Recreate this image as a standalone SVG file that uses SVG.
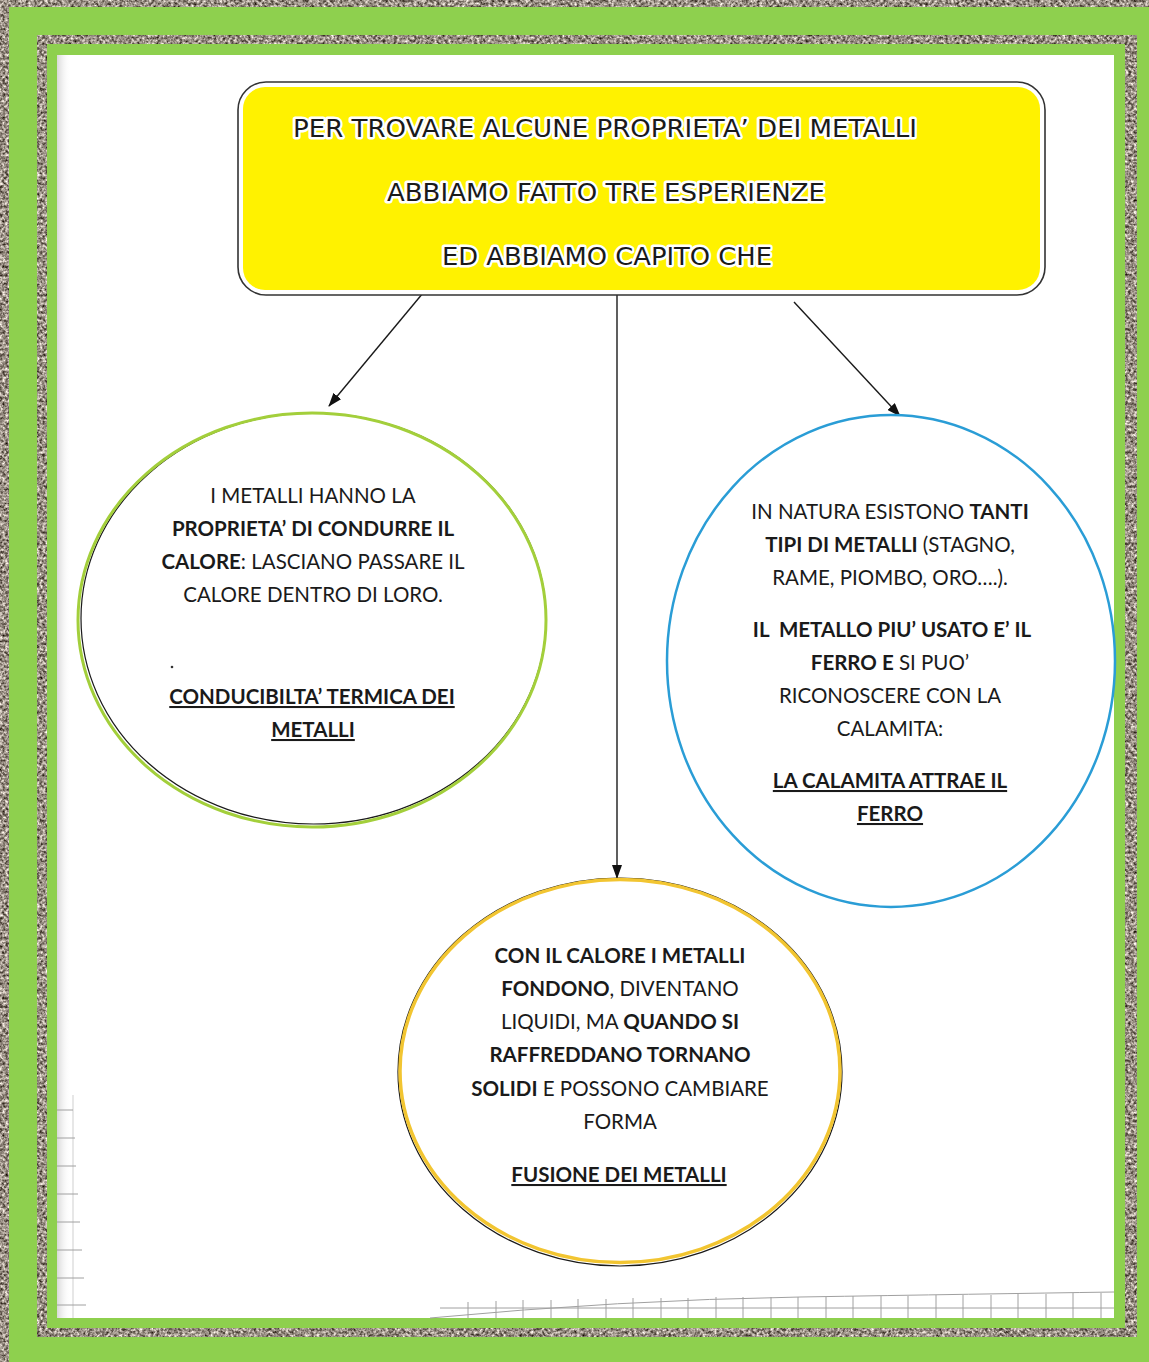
<svg xmlns="http://www.w3.org/2000/svg" width="1149" height="1362" viewBox="0 0 1149 1362">
  <defs>
    <filter id="grain" x="0" y="0" width="100%" height="100%" filterUnits="objectBoundingBox" color-interpolation-filters="sRGB">
      <feTurbulence type="fractalNoise" baseFrequency="0.35" numOctaves="3" seed="7" result="n"/>
      <feColorMatrix in="n" type="matrix" values="1.3 0 0 0 -0.05  1.3 0 0 0 -0.09  1.3 0 0 0 -0.13  0 0 0 0 1"/>
    </filter>
    <linearGradient id="paperShadeL" x1="0" y1="0" x2="1" y2="0">
      <stop offset="0" stop-color="#d8d8d8"/>
      <stop offset="1" stop-color="#ffffff" stop-opacity="0"/>
    </linearGradient>
    <marker id="arrow" viewBox="0 0 14 10" refX="13" refY="5" markerWidth="14" markerHeight="10" markerUnits="userSpaceOnUse" orient="auto">
      <path d="M0,0 L14,5 L0,10 Z" fill="#111"/>
    </marker>
    <style>
      .hdr { font-family: "DejaVu Sans", "Liberation Sans", sans-serif; font-size: 25px; fill: #1a1a1a; text-anchor: middle; stroke: #ffffff; stroke-width: 5px; stroke-linejoin: round; paint-order: stroke; }
      .body { font-family: Lato, "Open Sans", "Liberation Sans", sans-serif; font-size: 20.5px; fill: #1a1a1a; text-anchor: middle; }
      .b { font-weight: bold; }
      .u { text-decoration: underline; }
      .conn { stroke: #1a1a1a; stroke-width: 1.4; fill: none; }
      .tick { stroke: #a0a0a0; stroke-width: 1; fill: none; }
    </style>
  </defs>

  <!-- frame -->
  <g id="frame">
    <rect x="0" y="0" width="1149" height="1362" fill="#9e948b" filter="url(#grain)"/>
    <rect x="9" y="7" width="1140" height="1355" fill="#8ed04e"/>
    <rect x="37" y="35" width="1100" height="1302" fill="#9e948b" filter="url(#grain)"/>
    <rect x="47" y="44" width="1078" height="1284" fill="#8ed04e"/>
    <rect x="57" y="55" width="1057" height="1263" fill="#ffffff"/>
    <rect x="57" y="55" width="14" height="1263" fill="url(#paperShadeL)"/>
  </g>

  <!-- faint graph paper marks -->
  <g id="paper-grid">
    <line class="tick" x1="73" y1="1095" x2="73" y2="1318" stroke-opacity="0.5"/>
    <line class="tick" x1="57" y1="1110" x2="73" y2="1110"/>
    <line class="tick" x1="57" y1="1138" x2="75" y2="1138"/>
    <line class="tick" x1="57" y1="1166" x2="76" y2="1166"/>
    <line class="tick" x1="57" y1="1194" x2="78" y2="1194"/>
    <line class="tick" x1="57" y1="1222" x2="80" y2="1222"/>
    <line class="tick" x1="57" y1="1250" x2="82" y2="1250"/>
    <line class="tick" x1="57" y1="1278" x2="84" y2="1278"/>
    <line class="tick" x1="57" y1="1305" x2="86" y2="1305"/>
    <path class="tick" d="M430,1318 Q620,1300 800,1297 T1114,1292" stroke="#777"/>
    <line class="tick" x1="440" y1="1308" x2="1114" y2="1308"/>
    <path class="tick" d="M468,1302V1318 M496,1301V1318 M523,1300V1318 M551,1300V1318 M578,1299V1318 M606,1299V1318 M633,1298V1318 M661,1298V1318 M688,1298V1318 M716,1297V1318 M743,1297V1318 M771,1297V1318 M798,1297V1318 M826,1297V1318 M853,1296V1318 M881,1296V1318 M908,1296V1318 M936,1295V1318 M963,1295V1318 M991,1295V1318 M1018,1294V1318 M1046,1294V1318 M1073,1293V1318 M1101,1293V1318"/>
  </g>

  <!-- connectors -->
  <g id="connectors">
    <line class="conn" x1="423" y1="293" x2="329" y2="406" marker-end="url(#arrow)"/>
    <line class="conn" x1="617" y1="295" x2="617" y2="878" marker-end="url(#arrow)"/>
    <line class="conn" x1="794" y1="302" x2="900" y2="416" marker-end="url(#arrow)"/>
  </g>

  <!-- header node -->
  <g id="node-header">
    <rect x="238" y="82" width="807" height="213" rx="28" ry="28" fill="#ffffff" stroke="#333333" stroke-width="1.6"/>
    <rect x="243" y="87" width="797" height="203" rx="22" ry="22" fill="#fff200"/>
    <text class="hdr" x="605" y="137" textLength="624" lengthAdjust="spacingAndGlyphs">PER TROVARE ALCUNE PROPRIETA’ DEI METALLI</text>
    <text class="hdr" x="606" y="201" textLength="438" lengthAdjust="spacingAndGlyphs">ABBIAMO FATTO TRE ESPERIENZE</text>
    <text class="hdr" x="607" y="265" textLength="330" lengthAdjust="spacingAndGlyphs">ED ABBIAMO CAPITO CHE</text>
  </g>

  <!-- left node -->
  <g id="node-conducibilita">
    <ellipse cx="313.5" cy="618.5" rx="232.5" ry="205.5" fill="#ffffff" stroke="#1a1a1a" stroke-width="1.2"/>
    <ellipse cx="312" cy="620" rx="234" ry="207" fill="none" stroke="#a3cf3b" stroke-width="3"/>
    <text class="body" x="313" y="503">I METALLI HANNO LA</text>
    <text class="body b" x="313" y="536">PROPRIETA’ DI CONDURRE IL</text>
    <text class="body" x="313" y="569"><tspan class="b">CALORE</tspan>: LASCIANO PASSARE IL</text>
    <text class="body" x="313" y="602">CALORE DENTRO DI LORO.</text>
    <circle cx="172" cy="667" r="1.3" fill="#333"/>
    <text class="body b u" x="312" y="704">CONDUCIBILTA’ TERMICA DEI</text>
    <text class="body b u" x="313" y="737">METALLI</text>
  </g>

  <!-- right node -->
  <g id="node-calamita">
    <ellipse cx="891" cy="661" rx="224" ry="246" fill="#ffffff" stroke="#2a9dd6" stroke-width="2.5"/>
    <text class="body" x="890" y="519">IN NATURA ESISTONO <tspan class="b">TANTI</tspan></text>
    <text class="body" x="890" y="552"><tspan class="b">TIPI DI METALLI</tspan> (STAGNO,</text>
    <text class="body" x="890" y="585">RAME, PIOMBO, ORO….).</text>
    <text class="body b" x="892" y="637" xml:space="preserve">IL  METALLO PIU’ USATO E’ IL</text>
    <text class="body" x="890" y="670"><tspan class="b">FERRO E</tspan> SI PUO’</text>
    <text class="body" x="890" y="703">RICONOSCERE CON LA</text>
    <text class="body" x="890" y="736">CALAMITA:</text>
    <text class="body b u" x="890" y="788">LA CALAMITA ATTRAE IL</text>
    <text class="body b u" x="890" y="821">FERRO</text>
  </g>

  <!-- bottom node -->
  <g id="node-fusione">
    <ellipse cx="620" cy="1072" rx="222" ry="194" fill="#ffffff" stroke="#1a1a1a" stroke-width="1.2"/>
    <ellipse cx="620" cy="1071" rx="220" ry="191.5" fill="none" stroke="#f2c531" stroke-width="3.5"/>
    <text class="body b" x="620" y="963">CON IL CALORE I METALLI</text>
    <text class="body" x="620" y="996"><tspan class="b">FONDONO</tspan>, DIVENTANO</text>
    <text class="body" x="620" y="1029">LIQUIDI, MA <tspan class="b">QUANDO SI</tspan></text>
    <text class="body b" x="620" y="1062">RAFFREDDANO TORNANO</text>
    <text class="body" x="620" y="1096"><tspan class="b">SOLIDI</tspan> E POSSONO CAMBIARE</text>
    <text class="body" x="620" y="1129">FORMA</text>
    <text class="body b u" x="619" y="1182">FUSIONE DEI METALLI</text>
  </g>
</svg>
